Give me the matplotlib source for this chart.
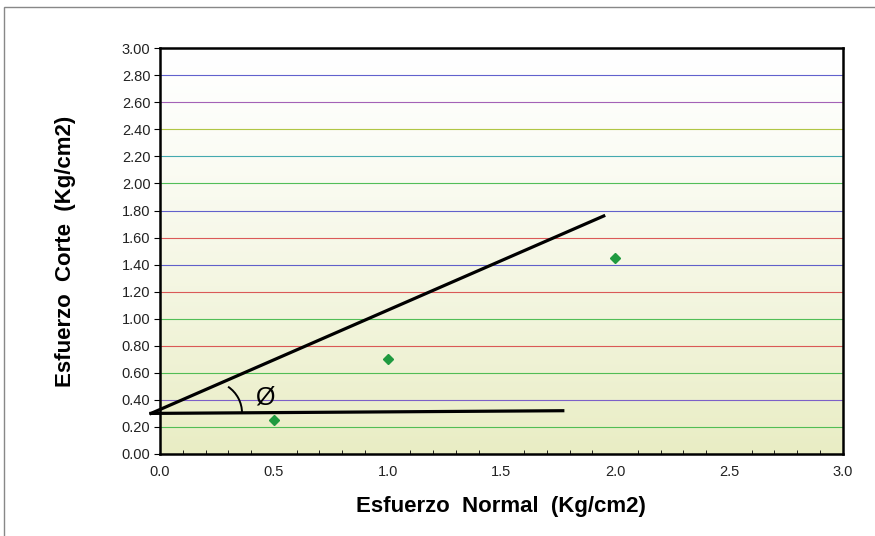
import matplotlib.pyplot as plt
import numpy as np
from matplotlib.patches import Arc, Rectangle

plt.rcParams['font.family'] = ['Liberation Sans', 'DejaVu Sans']

# measured points
normal = [0.5, 1.0, 2.0]
shear = [0.25, 0.70, 1.45]

# hand-drawn envelope lines
env_x = [-0.04, 1.95]
env_y = [0.30, 1.76]
base_x = [-0.04, 1.77]
base_y = [0.30, 0.32]

yticks = np.arange(0, 3.01, 0.2)
xticks = [0.0, 0.5, 1.0, 1.5, 2.0, 2.5, 3.0]
grid_colors = ['#d04040', '#5050c8', '#9a50b0', '#a8c030', '#30a0a8', '#40b848', '#5050c8',
               '#d84848', '#5050c8', '#d84848', '#40b848', '#d84848', '#40b848', '#7050c8', '#40b848', '#000000']

fig = plt.figure(figsize=(8.75, 5.36), dpi=100)
ax = fig.add_axes([0.183, 0.153, 0.780, 0.757])

# background gradient
grad = np.linspace(0, 1, 256).reshape(-1, 1)
top = np.array([1.0, 1.0, 1.0])
bot = np.array([233, 237, 196]) / 255
img = top + (bot - top) * grad[:, :, None] ** 1.3
ax.imshow(img, extent=[0, 3, 0, 3], origin='upper', aspect='auto', zorder=0)

ax.set_xlim(0, 3)
ax.set_ylim(0, 3)

for v, c in zip(yticks[::-1], grid_colors):
    if 0 < v < 3:
        ax.axhline(v, color=c, lw=0.8, alpha=0.9, zorder=1)

ax.plot(normal, shear, 'D', color='#1f9a3f', ms=5, zorder=4)
ax.plot(env_x, env_y, color='black', lw=2.3, clip_on=False, zorder=5)
ax.plot(base_x, base_y, color='black', lw=2.3, clip_on=False, zorder=5)

ax.add_patch(Arc((0.22, 0.303), 0.28, 0.47, theta1=0, theta2=68, color='black', lw=1.4, zorder=5))
ax.text(0.46, 0.42, 'Ø', fontsize=18, ha='center', va='center', zorder=6)

ax.set_yticks(yticks)
ax.set_yticklabels(['%.2f' % v for v in yticks], fontsize=10.5, color='#222222')
ax.set_xticks(xticks)
ax.set_xticklabels(['%.1f' % v for v in xticks], fontsize=10.5, color='#222222')
ax.set_xticks(np.arange(0, 3.01, 0.1), minor=True)
ax.tick_params(axis='y', direction='out', length=4, width=0.8, pad=3)
ax.tick_params(axis='x', which='major', direction='in', length=0, pad=8)
ax.tick_params(axis='x', which='minor', direction='in', length=3, width=0.6)
for s in ax.spines.values():
    s.set_linewidth(1.8)

ax.set_ylabel('Esfuerzo  Corte  (Kg/cm2)', fontsize=16, fontweight='bold', labelpad=33)
ax.set_xlabel('Esfuerzo  Normal  (Kg/cm2)', fontsize=16, fontweight='bold', labelpad=12)

fig.patches.append(Rectangle((0.004, -0.01), 1.0, 0.997, transform=fig.transFigure,
                             fill=False, edgecolor='#888888', lw=1.0))

fig.savefig('out.png', dpi=100)
